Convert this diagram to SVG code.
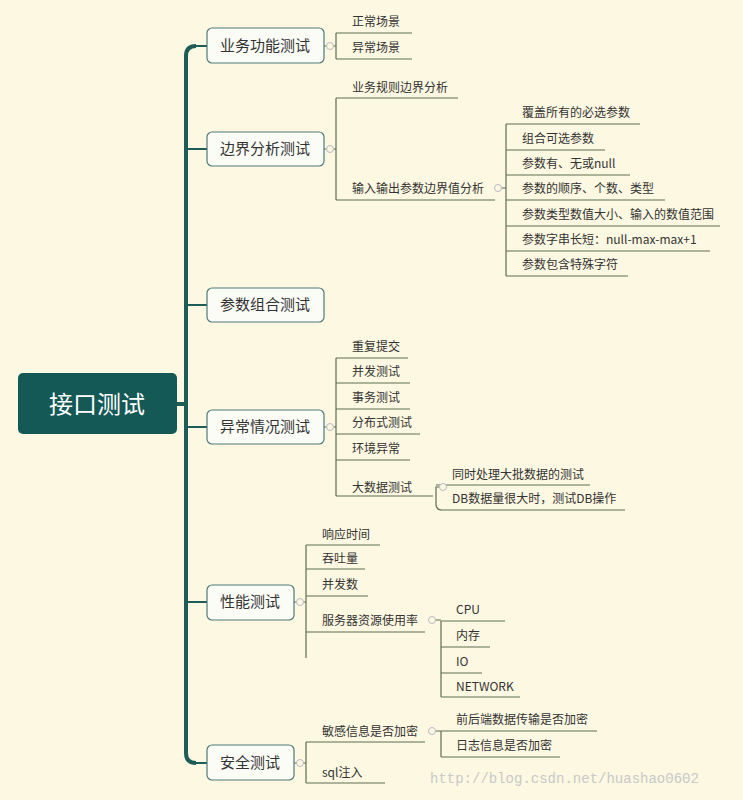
<svg xmlns="http://www.w3.org/2000/svg" width="743" height="800" viewBox="0 0 743 800">
<style>
text{font-family:"Noto Sans CJK SC","Liberation Sans",sans-serif;fill:#333}
.l1 rect{fill:#fbfcf6;stroke:#4f7a78;stroke-width:1.2}
.l1 text{font-size:15px;text-anchor:middle}
.c{font-size:12px}
.ln{fill:none;stroke:#5d6e52;stroke-width:1.2}
.tr{fill:none;stroke:#1d5c57;stroke-width:4}
.tb{fill:none;stroke:#1d5c57;stroke-width:2}
.dot{fill:#fdf8e0;stroke:#b9b9c9;stroke-width:1}
</style>
<rect width="743" height="800" fill="#fdf8e1"/>
<g id="connectors">
<path class="tr" d="M177 404H186M196 46Q186 46 186 56V753Q186 763 196 763"/>
<path class="tb" d="M186 149H207M186 305H207M186 427H207M186 602H207M196 46H207M196 763H207"/>
<path class="ln" d="M324 46H336M336 33V59M336 33H412M336 59H412"/>
<path class="ln" d="M324 149H336M336 98V200M336 98H458M336 200H495"/>
<path class="ln" d="M500 188H506M506 124V276M506 124H640M506 150H605M506 175H630M506 200H665M506 226H720M506 251H710M506 276H628"/>
<path class="ln" d="M324 427H336M336 358V496M336 358H408M336 383H410M336 409H410M336 434H420M336 460H410M336 496H433"/>
<path class="ln" d="M446 487H436V504Q436 510 442 510H625M436 485H590"/>
<path class="ln" d="M294 602H306M306 545V658M306 545H380M306 569H365M306 596H368M306 632H425"/>
<path class="ln" d="M435 620H441M441 621V697M441 621H505M441 647H490M441 673H482M441 697H520"/>
<path class="ln" d="M294 763H306M306 742V783M306 742H425M306 783H385"/>
<path class="ln" d="M435 731H441M441 731V757M441 731H597M441 757H560"/>
</g>
<g id="root"><rect x="18" y="373" width="159" height="61" rx="5" fill="#155956"/><text x="97" y="413" font-size="24" text-anchor="middle" style="fill:#fff">接口测试</text></g>
<g id="n1" class="l1"><rect x="207" y="28" width="117" height="35" rx="5"/><text x="265" y="51">业务功能测试</text><circle class="dot" cx="330" cy="46" r="3.5"/></g>
<g id="n2" class="l1"><rect x="207" y="132" width="117" height="34" rx="5"/><text x="265" y="154">边界分析测试</text><circle class="dot" cx="330" cy="149" r="3.5"/></g>
<g id="n3" class="l1"><rect x="207" y="288" width="117" height="34" rx="5"/><text x="265" y="310">参数组合测试</text></g>
<g id="n4" class="l1"><rect x="207" y="410" width="117" height="34" rx="5"/><text x="265" y="432">异常情况测试</text><circle class="dot" cx="330" cy="427" r="3.5"/></g>
<g id="n5" class="l1"><rect x="207" y="585" width="87" height="35" rx="5"/><text x="250" y="607">性能测试</text><circle class="dot" cx="300" cy="602" r="3.5"/></g>
<g id="n6" class="l1"><rect x="207" y="745" width="87" height="35" rx="5"/><text x="250" y="768">安全测试</text><circle class="dot" cx="300" cy="763" r="3.5"/></g>
<g id="leaves" class="c">
<text x="352" y="26">正常场景</text><text x="352" y="52">异常场景</text>
<text x="352" y="92">业务规则边界分析</text><text x="352" y="193">输入输出参数边界值分析</text>
<circle class="dot" cx="498" cy="188" r="3.5"/>
<text x="522" y="117">覆盖所有的必选参数</text><text x="522" y="143">组合可选参数</text><text x="522" y="168">参数有、无或null</text><text x="522" y="193">参数的顺序、个数、类型</text><text x="522" y="219">参数类型数值大小、输入的数值范围</text><text x="522" y="244">参数字串长短：null-max-max+1</text><text x="522" y="269">参数包含特殊字符</text>
<text x="352" y="351">重复提交</text><text x="352" y="376">并发测试</text><text x="352" y="402">事务测试</text><text x="352" y="427">分布式测试</text><text x="352" y="453">环境异常</text><text x="352" y="492">大数据测试</text>
<circle class="dot" cx="443" cy="487" r="3.5"/>
<text x="452" y="479">同时处理大批数据的测试</text><text x="452" y="503">DB数据量很大时，测试DB操作</text>
<text x="322" y="539">响应时间</text><text x="322" y="563">吞吐量</text><text x="322" y="589">并发数</text><text x="322" y="625">服务器资源使用率</text>
<circle class="dot" cx="432" cy="620" r="3.5"/>
<text x="456" y="614">CPU</text><text x="456" y="640">内存</text><text x="456" y="666">IO</text><text x="456" y="691">NETWORK</text>
<text x="322" y="736">敏感信息是否加密</text><text x="322" y="777">sql注入</text>
<circle class="dot" cx="432" cy="731" r="3.5"/>
<text x="456" y="724">前后端数据传输是否加密</text><text x="456" y="750">日志信息是否加密</text>
</g>
<text x="430" y="783" font-size="14" style="font-family:'Liberation Mono',monospace;fill:#c8c8c8">http://blog.csdn.net/huashao0602</text>
</svg>
